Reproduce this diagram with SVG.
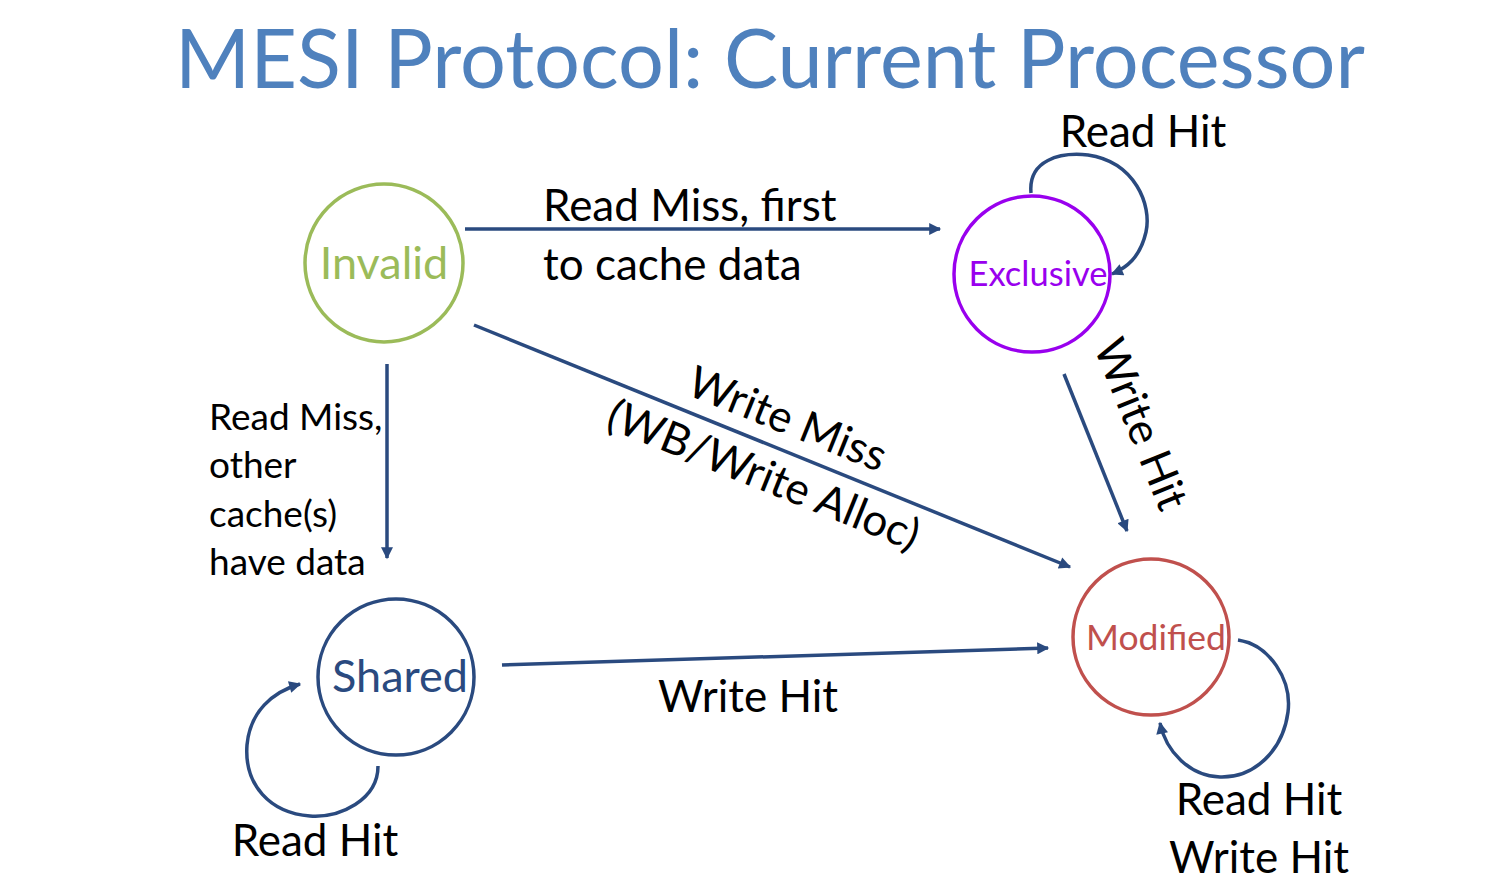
<svg xmlns="http://www.w3.org/2000/svg" width="1509" height="896" viewBox="0 0 1509 896">
  <style>
    text { font-family: Lato, "Open Sans", "Liberation Sans", sans-serif; }
    .title { font-size: 81px; fill: #4f81bd; }
    .lbl { font-size: 44px; fill: #000; }
    .lbl-sm { font-size: 37px; fill: #000; }
    .state { fill: #fff; stroke-width: 3.5; }
    .edge { fill: none; stroke: #2a4a7f; stroke-width: 3.5; }
  </style>
  <defs>
    <marker id="arrow" viewBox="0 0 10 10" refX="9" refY="5" markerWidth="14" markerHeight="12" markerUnits="userSpaceOnUse" orient="auto">
      <path d="M0,0 L10,5 L0,10 Z" fill="#2a4a7f"/>
    </marker>
  </defs>

  <text class="title" x="770" y="88" text-anchor="middle">MESI Protocol: Current Processor</text>

  <g id="connectors">
    <line class="edge" x1="465" y1="229" x2="940" y2="229" marker-end="url(#arrow)"/>
    <line class="edge" x1="387" y1="364" x2="387" y2="558" marker-end="url(#arrow)"/>
    <line class="edge" x1="474" y1="325" x2="1070" y2="567" marker-end="url(#arrow)"/>
    <line class="edge" x1="1064" y1="374" x2="1127" y2="531" marker-end="url(#arrow)"/>
    <line class="edge" x1="502" y1="665" x2="1048" y2="648" marker-end="url(#arrow)"/>
    <path class="edge" d="M1031,193 C1028,160 1060,152 1088,155 C1135,162 1152,205 1146,232 C1140,258 1126,268 1112,274" marker-end="url(#arrow)"/>
    <path class="edge" d="M378,766 C378,800 340,818 310,816 C270,813 244,785 247,745 C250,712 272,692 300,684" marker-end="url(#arrow)"/>
    <path class="edge" d="M1238,640 C1270,645 1292,680 1288,712 C1283,750 1255,778 1220,777 C1190,776 1166,752 1160,723" marker-end="url(#arrow)"/>
  </g>

  <g id="node-invalid">
    <circle class="state" cx="384" cy="263" r="79" stroke="#9bbb59"/>
    <text x="384" y="279" text-anchor="middle" font-size="45" fill="#9bbb59">Invalid</text>
  </g>
  <g id="node-exclusive">
    <circle class="state" cx="1032" cy="274" r="78" stroke="#9900ee"/>
    <text x="1038" y="286" text-anchor="middle" font-size="34.5" fill="#9900ee">Exclusive</text>
  </g>
  <g id="node-shared">
    <circle class="state" cx="396" cy="677" r="78" stroke="#2a4a7f"/>
    <text x="400" y="692" text-anchor="middle" font-size="45" fill="#2a4a7f">Shared</text>
  </g>
  <g id="node-modified">
    <circle class="state" cx="1151" cy="637" r="78" stroke="#c0504d"/>
    <text x="1156" y="650" text-anchor="middle" font-size="35.5" fill="#c0504d">Modified</text>
  </g>

  <g id="labels">
    <text class="lbl" x="1143" y="147" text-anchor="middle">Read Hit</text>
    <text class="lbl" x="543" y="221">Read Miss, first</text>
    <text class="lbl" x="543" y="280">to cache data</text>
    <text class="lbl-sm" x="209" y="430">Read Miss,</text>
    <text class="lbl-sm" x="209" y="478">other</text>
    <text class="lbl-sm" x="209" y="527">cache(s)</text>
    <text class="lbl-sm" x="209" y="575">have data</text>
    <text class="lbl" transform="translate(782,433) rotate(22)" text-anchor="middle">Write Miss</text>
    <text class="lbl" transform="translate(758,489) rotate(22)" text-anchor="middle">(WB/Write Alloc)</text>
    <text class="lbl" transform="translate(1127,430) rotate(68)" text-anchor="middle">Write Hit</text>
    <text class="lbl" x="748" y="712" text-anchor="middle">Write Hit</text>
    <text class="lbl" x="315" y="856" text-anchor="middle">Read Hit</text>
    <text class="lbl" x="1259" y="815" text-anchor="middle">Read Hit</text>
    <text class="lbl" x="1259" y="873" text-anchor="middle">Write Hit</text>
  </g>
</svg>
